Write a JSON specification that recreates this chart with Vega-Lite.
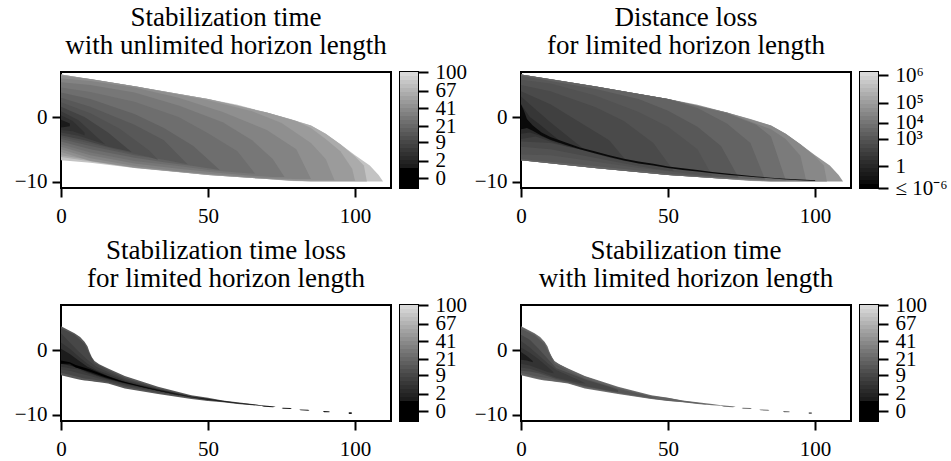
{"$schema":"https://vega.github.io/schema/vega-lite/v6.json","padding":{"left":13,"top":3,"right":0,"bottom":0},"background":"white",
"config":{"font":"Liberation Serif","view":{"stroke":"#000","strokeWidth":2},"axis":{"grid":false,"domain":false,"labelFont":"Liberation Serif","labelFontSize":21,"labelColor":"#000","tickColor":"#000","tickWidth":2,"tickSize":9,"labelOverlap":false,"labelFlush":false,"labelPadding":5},"axisX":{"labelPadding":8},"title":{"font":"Liberation Serif","fontSize":27,"fontWeight":"normal","color":"#000","lineHeight":28,"offset":12,"anchor":"middle"}},
"datasets":{
"a":[
{"v":85,"x":0,"lo":-6.7,"hi":6.6},{"v":85,"x":10,"lo":-7.1,"hi":5.9},{"v":85,"x":25,"lo":-7.9,"hi":4.8},{"v":85,"x":40,"lo":-8.5,"hi":3.6},{"v":85,"x":50,"lo":-9,"hi":2.8},{"v":85,"x":60,"lo":-9.3,"hi":1.9},{"v":85,"x":70,"lo":-9.6,"hi":0.7},{"v":85,"x":78,"lo":-9.9,"hi":-0.3},{"v":85,"x":85,"lo":-10,"hi":-1.3},{"v":85,"x":90,"lo":-10,"hi":-2.6},{"v":85,"x":95,"lo":-10,"hi":-4.2},{"v":85,"x":100,"lo":-10,"hi":-5.9},{"v":85,"x":105,"lo":-10,"hi":-7.5},{"v":85,"x":108,"lo":-10,"hi":-9},{"v":85,"x":109.5,"lo":-10,"hi":-10},
{"v":65,"x":0,"lo":-6.2,"hi":6.6},{"v":65,"x":25,"lo":-7.9,"hi":4.8},{"v":65,"x":50,"lo":-9,"hi":2.8},{"v":65,"x":70,"lo":-9.6,"hi":0.7},{"v":65,"x":85,"lo":-10,"hi":-1.3},{"v":65,"x":90,"lo":-10,"hi":-2.6},{"v":65,"x":95,"lo":-10,"hi":-4.2},{"v":65,"x":100,"lo":-10,"hi":-6.1},{"v":65,"x":103,"lo":-10,"hi":-7.5},{"v":65,"x":104,"lo":-10,"hi":-10},
{"v":52,"x":0,"lo":-5.9,"hi":6.6},{"v":52,"x":25,"lo":-7.8,"hi":4.8},{"v":52,"x":50,"lo":-9,"hi":2.8},{"v":52,"x":70,"lo":-9.6,"hi":0.7},{"v":52,"x":80,"lo":-9.9,"hi":-0.6},{"v":52,"x":85,"lo":-9.9,"hi":-1.7},{"v":52,"x":90,"lo":-9.9,"hi":-3.4},{"v":52,"x":95,"lo":-9.9,"hi":-5.3},{"v":52,"x":99,"lo":-9.9,"hi":-8},{"v":52,"x":100,"lo":-9.9,"hi":-9.9},
{"v":42,"x":0,"lo":-5.4,"hi":6.4},{"v":42,"x":10,"lo":-6.8,"hi":5.9},{"v":42,"x":25,"lo":-7.8,"hi":4.8},{"v":42,"x":50,"lo":-8.9,"hi":2.6},{"v":42,"x":65,"lo":-9.4,"hi":0.9},{"v":42,"x":75,"lo":-9.7,"hi":-0.9},{"v":42,"x":85,"lo":-9.8,"hi":-4},{"v":42,"x":90,"lo":-9.8,"hi":-6.5},{"v":42,"x":93,"lo":-9.8,"hi":-9.8},
{"v":34,"x":0,"lo":-5,"hi":6},{"v":34,"x":10,"lo":-6.4,"hi":5.6},{"v":34,"x":25,"lo":-7.6,"hi":4.6},{"v":34,"x":40,"lo":-8.4,"hi":3},{"v":34,"x":55,"lo":-9,"hi":0.8},{"v":34,"x":70,"lo":-9.5,"hi":-2},{"v":34,"x":80,"lo":-9.6,"hi":-5},{"v":34,"x":85,"lo":-9.6,"hi":-9.6},
{"v":27,"x":0,"lo":-4.6,"hi":5.4},{"v":27,"x":10,"lo":-5.9,"hi":5},{"v":27,"x":25,"lo":-7.2,"hi":3.8},{"v":27,"x":40,"lo":-8,"hi":1.8},{"v":27,"x":55,"lo":-8.7,"hi":-0.8},{"v":27,"x":65,"lo":-9.1,"hi":-3.6},{"v":27,"x":72,"lo":-9.3,"hi":-6.5},{"v":27,"x":76,"lo":-9.3,"hi":-9.3},
{"v":21,"x":0,"lo":-4.2,"hi":4.6},{"v":21,"x":10,"lo":-5.5,"hi":3.9},{"v":21,"x":25,"lo":-6.8,"hi":2.4},{"v":21,"x":40,"lo":-7.6,"hi":0},{"v":21,"x":50,"lo":-8.2,"hi":-2.5},{"v":21,"x":60,"lo":-8.6,"hi":-5.3},{"v":21,"x":66,"lo":-8.8,"hi":-8.8},
{"v":16,"x":0,"lo":-3.8,"hi":3.8},{"v":16,"x":10,"lo":-5,"hi":2.8},{"v":16,"x":25,"lo":-6.3,"hi":0.5},{"v":16,"x":35,"lo":-7,"hi":-1.7},{"v":16,"x":45,"lo":-7.6,"hi":-4.5},{"v":16,"x":54,"lo":-8.2,"hi":-8.2},
{"v":12,"x":0,"lo":-3.4,"hi":3},{"v":12,"x":10,"lo":-4.5,"hi":1.6},{"v":12,"x":25,"lo":-5.9,"hi":-1.2},{"v":12,"x":35,"lo":-6.6,"hi":-3.6},{"v":12,"x":43,"lo":-7.3,"hi":-7.3},
{"v":9,"x":0,"lo":-3.1,"hi":2.3},{"v":9,"x":10,"lo":-4.1,"hi":0.6},{"v":9,"x":20,"lo":-5.2,"hi":-1.8},{"v":9,"x":30,"lo":-6.2,"hi":-5.2},{"v":9,"x":33,"lo":-6.6,"hi":-6.6},
{"v":6,"x":0,"lo":-2.8,"hi":1.6},{"v":6,"x":8,"lo":-3.6,"hi":0},{"v":6,"x":16,"lo":-4.6,"hi":-2.4},{"v":6,"x":24,"lo":-5.4,"hi":-5.4},
{"v":4,"x":0,"lo":-2.4,"hi":0.9},{"v":4,"x":6,"lo":-2.9,"hi":-0.5},{"v":4,"x":12,"lo":-3.8,"hi":-3},{"v":4,"x":15,"lo":-4.2,"hi":-4.2},
{"v":2,"x":0,"lo":-2,"hi":0.3},{"v":2,"x":4,"lo":-2.2,"hi":-0.6},{"v":2,"x":8,"lo":-2.8,"hi":-2.4},
{"v":1,"x":0,"lo":-1.6,"hi":-0.4},{"v":1,"x":3,"lo":-1.4,"hi":-1}
],
"b":[
{"v":5,"x":0,"lo":-6.7,"hi":6.6},{"v":5,"x":10,"lo":-7.1,"hi":5.9},{"v":5,"x":25,"lo":-7.9,"hi":4.8},{"v":5,"x":40,"lo":-8.5,"hi":3.6},{"v":5,"x":50,"lo":-9,"hi":2.8},{"v":5,"x":60,"lo":-9.3,"hi":1.9},{"v":5,"x":70,"lo":-9.6,"hi":0.7},{"v":5,"x":78,"lo":-9.9,"hi":-0.3},{"v":5,"x":85,"lo":-10,"hi":-1.3},{"v":5,"x":90,"lo":-10,"hi":-2.6},{"v":5,"x":95,"lo":-10,"hi":-4.2},{"v":5,"x":100,"lo":-10,"hi":-5.9},{"v":5,"x":105,"lo":-10,"hi":-7.5},{"v":5,"x":108,"lo":-10,"hi":-9},{"v":5,"x":109.5,"lo":-10,"hi":-10},
{"v":4.6,"x":0,"lo":-6.7,"hi":6.6},{"v":4.6,"x":25,"lo":-7.9,"hi":4.8},{"v":4.6,"x":50,"lo":-9,"hi":2.8},{"v":4.6,"x":70,"lo":-9.6,"hi":0.7},{"v":4.6,"x":85,"lo":-10,"hi":-1.3},{"v":4.6,"x":90,"lo":-10,"hi":-2.6},{"v":4.6,"x":95,"lo":-10,"hi":-4.2},{"v":4.6,"x":100,"lo":-10,"hi":-6.1},{"v":4.6,"x":103,"lo":-10,"hi":-7.5},{"v":4.6,"x":104,"lo":-10,"hi":-10},
{"v":4.2,"x":0,"lo":-6.7,"hi":6.6},{"v":4.2,"x":25,"lo":-7.9,"hi":4.8},{"v":4.2,"x":50,"lo":-9,"hi":2.8},{"v":4.2,"x":70,"lo":-9.6,"hi":0.7},{"v":4.2,"x":85,"lo":-9.9,"hi":-1.9},{"v":4.2,"x":90,"lo":-9.9,"hi":-3.4},{"v":4.2,"x":95,"lo":-9.9,"hi":-6},{"v":4.2,"x":97,"lo":-9.9,"hi":-9.9},
{"v":3.8,"x":0,"lo":-6.7,"hi":6.6},{"v":3.8,"x":25,"lo":-7.9,"hi":4.8},{"v":3.8,"x":50,"lo":-9,"hi":2.8},{"v":3.8,"x":70,"lo":-9.6,"hi":0.6},{"v":3.8,"x":80,"lo":-9.7,"hi":-1.2},{"v":3.8,"x":85,"lo":-9.8,"hi":-3},{"v":3.8,"x":90,"lo":-9.8,"hi":-9.8},
{"v":3.4,"x":0,"lo":-6.7,"hi":6.6},{"v":3.4,"x":25,"lo":-7.9,"hi":4.8},{"v":3.4,"x":50,"lo":-9,"hi":2.8},{"v":3.4,"x":60,"lo":-9.2,"hi":1.4},{"v":3.4,"x":70,"lo":-9.4,"hi":-1},{"v":3.4,"x":78,"lo":-9.6,"hi":-4},{"v":3.4,"x":83,"lo":-9.7,"hi":-9.7},
{"v":3,"x":0,"lo":-6.5,"hi":6.4},{"v":3,"x":25,"lo":-7.6,"hi":4.4},{"v":3,"x":40,"lo":-8.3,"hi":2.8},{"v":3,"x":50,"lo":-8.8,"hi":1},{"v":3,"x":60,"lo":-9.1,"hi":-1.5},{"v":3,"x":68,"lo":-9.3,"hi":-4.5},{"v":3,"x":74,"lo":-9.4,"hi":-9.4},
{"v":2.6,"x":0,"lo":-5.8,"hi":5.8},{"v":2.6,"x":10,"lo":-5.9,"hi":5.2},{"v":2.6,"x":25,"lo":-6.9,"hi":3.4},{"v":2.6,"x":40,"lo":-7.9,"hi":0.8},{"v":2.6,"x":50,"lo":-8.4,"hi":-1.5},{"v":2.6,"x":60,"lo":-8.9,"hi":-5},{"v":2.6,"x":65,"lo":-9.1,"hi":-9.1},
{"v":2.1,"x":0,"lo":-4.6,"hi":5},{"v":2.1,"x":10,"lo":-5,"hi":4},{"v":2.1,"x":25,"lo":-6.3,"hi":1.6},{"v":2.1,"x":35,"lo":-7.2,"hi":-0.6},{"v":2.1,"x":45,"lo":-8,"hi":-4},{"v":2.1,"x":52,"lo":-8.4,"hi":-8.4},
{"v":1.5,"x":0,"lo":-3.8,"hi":4},{"v":1.5,"x":10,"lo":-4,"hi":2},{"v":1.5,"x":20,"lo":-5,"hi":-0.8},{"v":1.5,"x":30,"lo":-6.3,"hi":-3.6},{"v":1.5,"x":36,"lo":-6.9,"hi":-6.9},
{"v":0.8,"x":0,"lo":-3.4,"hi":3.2},{"v":0.8,"x":5,"lo":-3,"hi":1.2},{"v":0.8,"x":10,"lo":-3.8,"hi":-0.8},{"v":0.8,"x":16,"lo":-4.6,"hi":-3},{"v":0.8,"x":22,"lo":-5.2,"hi":-5.2},
{"v":0,"x":0,"lo":-2.6,"hi":2},{"v":0,"x":3,"lo":-2.4,"hi":0},{"v":0,"x":6,"lo":-2.8,"hi":-1},{"v":0,"x":10,"lo":-3.6,"hi":-2.5},{"v":0,"x":13,"lo":-4,"hi":-3.6},
{"v":-5,"x":0,"lo":-1.9,"hi":2},{"v":-5,"x":1,"lo":-1.8,"hi":1},{"v":-5,"x":2,"lo":-1.7,"hi":-0.3},{"v":-5,"x":4,"lo":-2.1,"hi":-1.3},{"v":-5,"x":7,"lo":-2.9,"hi":-2.4},{"v":-5,"x":10,"lo":-3.5,"hi":-3.1},{"v":-5,"x":15,"lo":-4.3,"hi":-3.9},{"v":-5,"x":20,"lo":-5,"hi":-4.7},{"v":-5,"x":25,"lo":-5.6,"hi":-5.3},{"v":-5,"x":30,"lo":-6.2,"hi":-5.9},{"v":-5,"x":35,"lo":-6.75,"hi":-6.45},{"v":-5,"x":40,"lo":-7.2,"hi":-6.9},{"v":-5,"x":45,"lo":-7.5,"hi":-7.25},{"v":-5,"x":50,"lo":-7.9,"hi":-7.65},{"v":-5,"x":55,"lo":-8.2,"hi":-7.95},{"v":-5,"x":60,"lo":-8.45,"hi":-8.2},{"v":-5,"x":65,"lo":-8.7,"hi":-8.5},{"v":-5,"x":70,"lo":-8.95,"hi":-8.75},{"v":-5,"x":75,"lo":-9.15,"hi":-9},{"v":-5,"x":80,"lo":-9.35,"hi":-9.2},{"v":-5,"x":85,"lo":-9.5,"hi":-9.4},{"v":-5,"x":90,"lo":-9.7,"hi":-9.55},{"v":-5,"x":100,"lo":-9.9,"hi":-9.8}
],
"c":[
{"v":10,"x":0,"lo":-3.9,"hi":3.7},{"v":10,"x":4.6,"lo":-4.4,"hi":2.6},{"v":10,"x":6.5,"lo":-4.6,"hi":2.05},{"v":10,"x":8,"lo":-4.7,"hi":1.3},{"v":10,"x":9,"lo":-4.75,"hi":0.6},{"v":10,"x":9.7,"lo":-4.8,"hi":-0.3},{"v":10,"x":10.5,"lo":-4.85,"hi":-1.1},{"v":10,"x":11.4,"lo":-4.9,"hi":-1.7},{"v":10,"x":13,"lo":-5,"hi":-2.2},{"v":10,"x":16,"lo":-5.2,"hi":-2.85},{"v":10,"x":21.7,"lo":-5.95,"hi":-4},{"v":10,"x":33,"lo":-6.8,"hi":-5.7},{"v":10,"x":44.3,"lo":-7.6,"hi":-7},{"v":10,"x":50,"lo":-7.9,"hi":-7.4},{"v":10,"x":55,"lo":-8.1,"hi":-7.8},{"v":10,"x":60,"lo":-8.35,"hi":-8.1},{"v":10,"x":65,"lo":-8.55,"hi":-8.35},{"v":10,"x":68,"lo":-8.65,"hi":-8.55},
{"v":6,"x":0,"lo":-3.5,"hi":3.4},{"v":6,"x":4.6,"lo":-4,"hi":2.4},{"v":6,"x":8,"lo":-4.4,"hi":1},{"v":6,"x":9.7,"lo":-4.5,"hi":-0.6},{"v":6,"x":11.4,"lo":-4.6,"hi":-2},{"v":6,"x":16,"lo":-5,"hi":-3.1},{"v":6,"x":21.7,"lo":-5.7,"hi":-4.3},{"v":6,"x":33,"lo":-6.6,"hi":-5.9},{"v":6,"x":44,"lo":-7.4,"hi":-7.1},{"v":6,"x":50,"lo":-7.8,"hi":-7.5},
{"v":4,"x":0,"lo":-3,"hi":2.6},{"v":4,"x":3,"lo":-3.2,"hi":1.2},{"v":4,"x":6,"lo":-3.6,"hi":-0.2},{"v":4,"x":9,"lo":-3.9,"hi":-1.5},{"v":4,"x":12,"lo":-4.3,"hi":-2.6},{"v":4,"x":16,"lo":-4.8,"hi":-3.4},{"v":4,"x":22,"lo":-5.5,"hi":-4.6},{"v":4,"x":33,"lo":-6.4,"hi":-6},{"v":4,"x":44,"lo":-7.3,"hi":-7.2},
{"v":2,"x":0,"lo":-2.6,"hi":1.2},{"v":2,"x":3,"lo":-2.8,"hi":0.2},{"v":2,"x":6,"lo":-3,"hi":-1},{"v":2,"x":9,"lo":-3.6,"hi":-2.1},{"v":2,"x":12,"lo":-4,"hi":-3},{"v":2,"x":16,"lo":-4.6,"hi":-3.7},{"v":2,"x":22,"lo":-5.3,"hi":-4.8},{"v":2,"x":33,"lo":-6.3,"hi":-6.1},{"v":2,"x":44,"lo":-7.25,"hi":-7.2},
{"v":1,"x":0,"lo":-2.1,"hi":0.2},{"v":1,"x":3,"lo":-2.4,"hi":-0.6},{"v":1,"x":6,"lo":-2.8,"hi":-1.6},{"v":1,"x":9,"lo":-3.4,"hi":-2.6},{"v":1,"x":12,"lo":-3.9,"hi":-3.2},{"v":1,"x":16,"lo":-4.5,"hi":-4},{"v":1,"x":22,"lo":-5.2,"hi":-5},{"v":1,"x":33,"lo":-6.3,"hi":-6.1},{"v":1,"x":44,"lo":-7.3,"hi":-7.2},{"v":1,"x":50,"lo":-7.75,"hi":-7.55},{"v":1,"x":55,"lo":-8,"hi":-7.85},{"v":1,"x":60,"lo":-8.3,"hi":-8.15},{"v":1,"x":65,"lo":-8.5,"hi":-8.4},{"v":1,"x":68,"lo":-8.65,"hi":-8.55},{"v":1,"x":69,"lo":-8.8,"hi":-8.6},{"v":1,"x":72,"lo":-8.85,"hi":-8.7},{"v":1,"x":73,"lo":-8.8,"hi":-8.8},{"v":1,"x":75,"lo":-9,"hi":-9},{"v":1,"x":75.5,"lo":-9.1,"hi":-8.95},{"v":1,"x":78,"lo":-9.15,"hi":-9},{"v":1,"x":78.5,"lo":-9.1,"hi":-9.1},{"v":1,"x":81,"lo":-9.25,"hi":-9.25},{"v":1,"x":81.5,"lo":-9.35,"hi":-9.2},{"v":1,"x":84,"lo":-9.4,"hi":-9.25},{"v":1,"x":84.5,"lo":-9.35,"hi":-9.35},{"v":1,"x":89,"lo":-9.5,"hi":-9.5},{"v":1,"x":89.5,"lo":-9.65,"hi":-9.45},{"v":1,"x":91,"lo":-9.65,"hi":-9.5},{"v":1,"x":91.5,"lo":-9.6,"hi":-9.6},{"v":1,"x":97.7,"lo":-9.75,"hi":-9.75},{"v":1,"x":98,"lo":-9.9,"hi":-9.65},{"v":1,"x":98.7,"lo":-9.9,"hi":-9.65},{"v":1,"x":99,"lo":-9.75,"hi":-9.75},
{"v":0,"x":0,"lo":-2.1,"hi":-1.6},{"v":0,"x":3,"lo":-2.1,"hi":-1.9},{"v":0,"x":5,"lo":-2.7,"hi":-2.3},{"v":0,"x":10,"lo":-3.4,"hi":-3},{"v":0,"x":15,"lo":-4.2,"hi":-3.9},{"v":0,"x":20,"lo":-4.9,"hi":-4.7},{"v":0,"x":30,"lo":-6,"hi":-5.9},{"v":0,"x":40,"lo":-7,"hi":-6.95}
],
"d":[
{"v":20,"x":0,"lo":-3.9,"hi":3.7},{"v":20,"x":4.6,"lo":-4.4,"hi":2.6},{"v":20,"x":6.5,"lo":-4.6,"hi":2.05},{"v":20,"x":8,"lo":-4.7,"hi":1.3},{"v":20,"x":9,"lo":-4.75,"hi":0.6},{"v":20,"x":9.7,"lo":-4.8,"hi":-0.3},{"v":20,"x":10.5,"lo":-4.85,"hi":-1.1},{"v":20,"x":11.4,"lo":-4.9,"hi":-1.7},{"v":20,"x":13,"lo":-5,"hi":-2.2},{"v":20,"x":16,"lo":-5.2,"hi":-2.85},{"v":20,"x":21.7,"lo":-5.95,"hi":-4},{"v":20,"x":33,"lo":-6.8,"hi":-5.7},{"v":20,"x":44.3,"lo":-7.6,"hi":-7},{"v":20,"x":50,"lo":-7.9,"hi":-7.4},{"v":20,"x":55,"lo":-8.1,"hi":-7.8},{"v":20,"x":60,"lo":-8.35,"hi":-8.1},{"v":20,"x":65,"lo":-8.55,"hi":-8.35},{"v":20,"x":68,"lo":-8.65,"hi":-8.55},{"v":20,"x":69,"lo":-8.8,"hi":-8.6},{"v":20,"x":72,"lo":-8.85,"hi":-8.7},{"v":20,"x":73,"lo":-8.8,"hi":-8.8},{"v":20,"x":75,"lo":-9,"hi":-9},{"v":20,"x":75.5,"lo":-9.1,"hi":-8.95},{"v":20,"x":78,"lo":-9.15,"hi":-9},{"v":20,"x":78.5,"lo":-9.1,"hi":-9.1},{"v":20,"x":81,"lo":-9.25,"hi":-9.25},{"v":20,"x":81.5,"lo":-9.35,"hi":-9.2},{"v":20,"x":84,"lo":-9.4,"hi":-9.25},{"v":20,"x":84.5,"lo":-9.35,"hi":-9.35},{"v":20,"x":89,"lo":-9.5,"hi":-9.5},{"v":20,"x":89.5,"lo":-9.65,"hi":-9.45},{"v":20,"x":91,"lo":-9.65,"hi":-9.5},{"v":20,"x":91.5,"lo":-9.6,"hi":-9.6},{"v":20,"x":97.7,"lo":-9.75,"hi":-9.75},{"v":20,"x":98,"lo":-9.9,"hi":-9.65},{"v":20,"x":98.7,"lo":-9.9,"hi":-9.65},{"v":20,"x":99,"lo":-9.75,"hi":-9.75},
{"v":14,"x":0,"lo":-3.8,"hi":3.6},{"v":14,"x":4.6,"lo":-4.3,"hi":2.5},{"v":14,"x":8,"lo":-4.6,"hi":1.2},{"v":14,"x":9.7,"lo":-4.7,"hi":-0.4},{"v":14,"x":11.4,"lo":-4.8,"hi":-1.8},{"v":14,"x":16,"lo":-5.1,"hi":-2.95},{"v":14,"x":21.7,"lo":-5.85,"hi":-4.1},{"v":14,"x":33,"lo":-6.7,"hi":-5.8},{"v":14,"x":44,"lo":-7.5,"hi":-7.1},{"v":14,"x":50,"lo":-7.85,"hi":-7.45},{"v":14,"x":55,"lo":-8.05,"hi":-7.85},{"v":14,"x":60,"lo":-8.3,"hi":-8.15},{"v":14,"x":63,"lo":-8.45,"hi":-8.4},
{"v":9,"x":0,"lo":-3.5,"hi":3.3},{"v":9,"x":4.6,"lo":-4,"hi":2.3},{"v":9,"x":8,"lo":-4.3,"hi":0.9},{"v":9,"x":9.7,"lo":-4.4,"hi":-0.7},{"v":9,"x":11.4,"lo":-4.6,"hi":-2.1},{"v":9,"x":16,"lo":-5,"hi":-3.2},{"v":9,"x":21.7,"lo":-5.7,"hi":-4.4},{"v":9,"x":33,"lo":-6.6,"hi":-6},{"v":9,"x":44,"lo":-7.4,"hi":-7.2},{"v":9,"x":46,"lo":-7.5,"hi":-7.4},
{"v":6,"x":0,"lo":-3.2,"hi":2.4},{"v":6,"x":3,"lo":-3.3,"hi":1.6},{"v":6,"x":6,"lo":-3.6,"hi":0.2},{"v":6,"x":9,"lo":-4,"hi":-1.3},{"v":6,"x":12,"lo":-4.5,"hi":-2.8},{"v":6,"x":16,"lo":-4.9,"hi":-3.5},{"v":6,"x":22,"lo":-5.6,"hi":-4.6},{"v":6,"x":30,"lo":-6.3,"hi":-5.7},{"v":6,"x":33,"lo":-6.5,"hi":-6.2},
{"v":4,"x":0,"lo":-2.7,"hi":1.4},{"v":4,"x":3,"lo":-2.9,"hi":0.4},{"v":4,"x":6,"lo":-3.3,"hi":-0.8},{"v":4,"x":9,"lo":-3.8,"hi":-2},{"v":4,"x":12,"lo":-4.3,"hi":-3.1},{"v":4,"x":16,"lo":-4.7,"hi":-3.9},{"v":4,"x":20,"lo":-5.1,"hi":-4.7},{"v":4,"x":22,"lo":-5.2,"hi":-5.2},
{"v":2,"x":0,"lo":-2.1,"hi":0.4},{"v":2,"x":3,"lo":-2.4,"hi":-0.4},{"v":2,"x":6,"lo":-2.9,"hi":-1.4},{"v":2,"x":9,"lo":-3.4,"hi":-2.6},{"v":2,"x":11,"lo":-3.6,"hi":-3.4},
{"v":1,"x":0,"lo":-1.5,"hi":-0.3},{"v":1,"x":2,"lo":-1.6,"hi":-0.9},{"v":1,"x":4,"lo":-1.9,"hi":-1.7}
],
"cb":[{"t":0,"t2":4},{"t":4,"t2":8},{"t":8,"t2":12},{"t":12,"t2":16},{"t":16,"t2":20},{"t":20,"t2":24},{"t":24,"t2":28},{"t":28,"t2":32},{"t":32,"t2":36},{"t":36,"t2":40},{"t":40,"t2":44},{"t":44,"t2":48},{"t":48,"t2":52},{"t":52,"t2":56},{"t":56,"t2":60},{"t":60,"t2":64},{"t":64,"t2":68},{"t":68,"t2":72},{"t":72,"t2":76},{"t":76,"t2":80},{"t":80,"t2":84},{"t":84,"t2":88},{"t":88,"t2":92},{"t":92,"t2":96},{"t":96,"t2":100},{"t":100,"t2":104},{"t":104,"t2":108},{"t":108,"t2":112},{"t":112,"t2":116}]
},
"resolve":{"scale":{"color":"independent"}},
"vconcat":[
{"resolve":{"scale":{"color":"independent"}},"hconcat":[
{"resolve":{"scale":{"color":"independent"}},"hconcat":[
{"width":330,"height":116,"title":{"text":["Stabilization time","with unlimited horizon length"]},"data":{"name":"a"},"mark":{"type":"area","clip":true},"encoding":{"x":{"field":"x","type":"quantitative","title":null,"scale":{"domain":[0,112.2],"nice":false},"axis":{"values":[0,50,100]}},"y":{"field":"lo","type":"quantitative","title":null,"scale":{"domain":[-11,7],"nice":false},"axis":{"values":[-10,0]}},"y2":{"field":"hi"},"color":{"field":"v","type":"quantitative","legend":null,"scale":{"domain":[0,1,2,9,21,41,67,100],"range":["#000000","#1a1a1a","#303030","#515151","#6e6e6e","#8e8e8e","#aeaeae","#d4d4d4"]}}}},
{"width":18,"height":116,"data":{"name":"cb"},"mark":"rect","encoding":{"y":{"field":"t","type":"quantitative","title":null,"scale":{"domain":[0,116],"nice":false},"axis":{"orient":"right","values":[10,27.3,46,62,80,97.3,116],"labelPadding":7,"tickSize":10,"labelExpr":"{'10':'0','27.3':'2','46':'9','62':'21','80':'41','97.3':'67','116':'100'}[datum.value]"}},"y2":{"field":"t2"},"color":{"field":"t","type":"quantitative","legend":null,"scale":{"domain":[0,19.9,20,112],"range":["#000000","#000000","#1c1c1c","#d9d9d9"]}}}}
],"spacing":7},
{"resolve":{"scale":{"color":"independent"}},"hconcat":[
{"width":330,"height":116,"title":{"text":["Distance loss","for limited horizon length"]},"data":{"name":"b"},"mark":{"type":"area","clip":true},"encoding":{"x":{"field":"x","type":"quantitative","title":null,"scale":{"domain":[0,112.2],"nice":false},"axis":{"values":[0,50,100]}},"y":{"field":"lo","type":"quantitative","title":null,"scale":{"domain":[-11,7],"nice":false},"axis":{"values":[-10,0]}},"y2":{"field":"hi"},"color":{"field":"v","type":"quantitative","legend":null,"scale":{"domain":[-6,0,3,4,5,6],"range":["#000000","#2a2a2a","#585858","#747474","#969696","#d7d7d7"]}}}},
{"width":18,"height":116,"data":{"name":"cb"},"mark":"rect","encoding":{"y":{"field":"t","type":"quantitative","title":null,"scale":{"domain":[0,116],"nice":false},"axis":{"orient":"right","values":[0,22,49.3,65.3,85.3,113],"labelPadding":7,"tickSize":10,"labelExpr":"{'0':'≤ 10⁻⁶','22':'1','49.3':'10³','65.3':'10⁴','85.3':'10⁵','113':'10⁶'}[datum.value]"}},"y2":{"field":"t2"},"color":{"field":"t","type":"quantitative","legend":null,"scale":{"domain":[0,112],"range":["#000000","#d9d9d9"]}}}}
],"spacing":7}
],"spacing":5},
{"resolve":{"scale":{"color":"independent"}},"hconcat":[
{"resolve":{"scale":{"color":"independent"}},"hconcat":[
{"width":330,"height":116,"title":{"text":["Stabilization time loss","for limited horizon length"]},"data":{"name":"c"},"mark":{"type":"area","clip":true},"encoding":{"x":{"field":"x","type":"quantitative","title":null,"scale":{"domain":[0,112.2],"nice":false},"axis":{"values":[0,50,100]}},"y":{"field":"lo","type":"quantitative","title":null,"scale":{"domain":[-11,7],"nice":false},"axis":{"values":[-10,0]}},"y2":{"field":"hi"},"color":{"field":"v","type":"quantitative","legend":null,"scale":{"domain":[0,1,2,9,21,41,67,100],"range":["#000000","#1c1c1c","#333333","#565656","#747474","#969696","#b6b6b6","#d9d9d9"]}}}},
{"width":18,"height":116,"data":{"name":"cb"},"mark":"rect","encoding":{"y":{"field":"t","type":"quantitative","title":null,"scale":{"domain":[0,116],"nice":false},"axis":{"orient":"right","values":[10,27.3,46,62,80,97.3,116],"labelPadding":7,"tickSize":10,"labelExpr":"{'10':'0','27.3':'2','46':'9','62':'21','80':'41','97.3':'67','116':'100'}[datum.value]"}},"y2":{"field":"t2"},"color":{"field":"t","type":"quantitative","legend":null,"scale":{"domain":[0,19.9,20,112],"range":["#000000","#000000","#1c1c1c","#d9d9d9"]}}}}
],"spacing":7},
{"resolve":{"scale":{"color":"independent"}},"hconcat":[
{"width":330,"height":116,"title":{"text":["Stabilization time","with limited horizon length"]},"data":{"name":"d"},"mark":{"type":"area","clip":true},"encoding":{"x":{"field":"x","type":"quantitative","title":null,"scale":{"domain":[0,112.2],"nice":false},"axis":{"values":[0,50,100]}},"y":{"field":"lo","type":"quantitative","title":null,"scale":{"domain":[-11,7],"nice":false},"axis":{"values":[-10,0]}},"y2":{"field":"hi"},"color":{"field":"v","type":"quantitative","legend":null,"scale":{"domain":[0,1,2,9,21,41,67,100],"range":["#000000","#1c1c1c","#333333","#565656","#747474","#969696","#b6b6b6","#d9d9d9"]}}}},
{"width":18,"height":116,"data":{"name":"cb"},"mark":"rect","encoding":{"y":{"field":"t","type":"quantitative","title":null,"scale":{"domain":[0,116],"nice":false},"axis":{"orient":"right","values":[10,27.3,46,62,80,97.3,116],"labelPadding":7,"tickSize":10,"labelExpr":"{'10':'0','27.3':'2','46':'9','62':'21','80':'41','97.3':'67','116':'100'}[datum.value]"}},"y2":{"field":"t2"},"color":{"field":"t","type":"quantitative","legend":null,"scale":{"domain":[0,19.9,20,112],"range":["#000000","#000000","#1c1c1c","#d9d9d9"]}}}}
],"spacing":7}
],"spacing":5}
],"spacing":9}
